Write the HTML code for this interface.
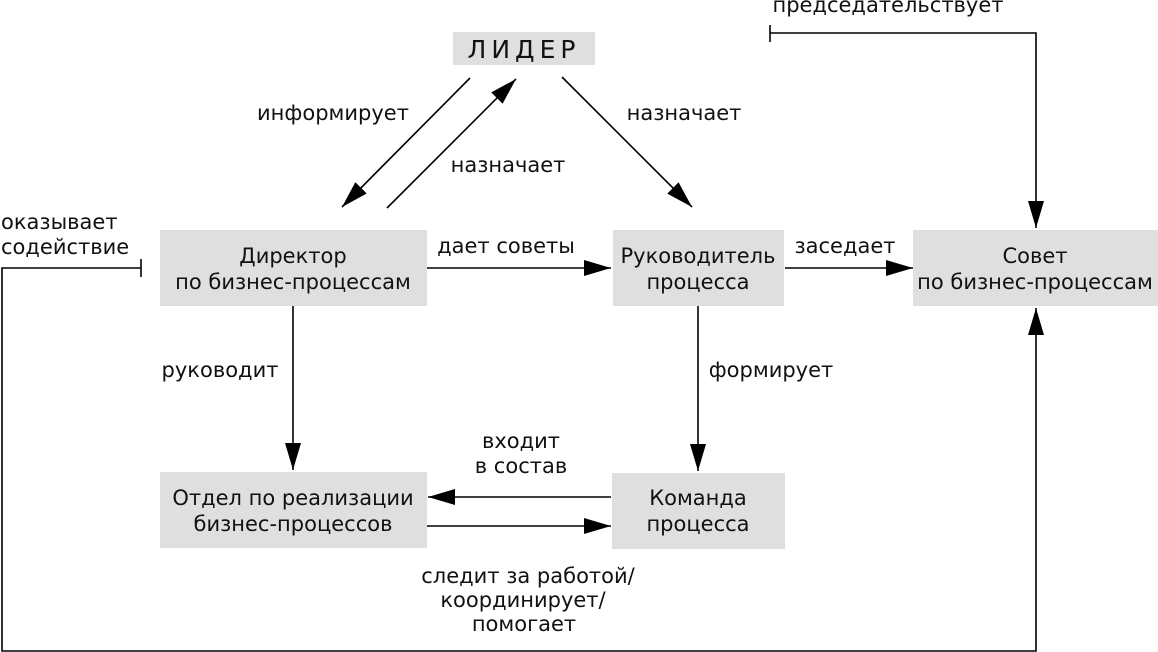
<!DOCTYPE html>
<html><head><meta charset="utf-8"><style>
html,body{margin:0;padding:0;background:#fff;}
svg{display:block;}
text{font-family:"DejaVu Sans","Liberation Sans",sans-serif;font-size:21px;fill:#111;}
</style></head><body>
<svg width="1158" height="652" viewBox="0 0 1158 652" xmlns="http://www.w3.org/2000/svg">
<defs>
<marker id="a" markerWidth="27" markerHeight="16" refX="27" refY="8" orient="auto" markerUnits="userSpaceOnUse">
<path d="M0,0 L27,8 L0,16 Z" fill="#000"/>
</marker>
</defs>
<g fill="#dfdfdf">
<rect x="453" y="32" width="142" height="33"/>
<rect x="160" y="230" width="267" height="76"/>
<rect x="613" y="230" width="171" height="76"/>
<rect x="913" y="230" width="245" height="76"/>
<rect x="160" y="472" width="267" height="76"/>
<rect x="612" y="473" width="173" height="76"/>
</g>
<g stroke="#000" stroke-width="1.6" fill="none">
<line x1="470" y1="78" x2="342" y2="207" marker-end="url(#a)"/>
<line x1="387" y1="208" x2="516" y2="79" marker-end="url(#a)"/>
<line x1="562" y1="77" x2="692" y2="207" marker-end="url(#a)"/>
<line x1="427" y1="268" x2="611" y2="268" marker-end="url(#a)"/>
<line x1="785" y1="268" x2="913" y2="268" marker-end="url(#a)"/>
<line x1="293" y1="306" x2="293" y2="470" marker-end="url(#a)"/>
<line x1="698" y1="306" x2="698" y2="471" marker-end="url(#a)"/>
<line x1="611" y1="497" x2="428" y2="497" marker-end="url(#a)"/>
<line x1="427" y1="526" x2="611" y2="526" marker-end="url(#a)"/>
<polyline points="141,268 2,268 2,651 1036,651 1036,308" marker-end="url(#a)"/>
<line x1="141" y1="259" x2="141" y2="277"/>
<polyline points="770,33 1036,33 1036,228" marker-end="url(#a)"/>
<line x1="770" y1="25" x2="770" y2="42"/>
</g>
<text x="524" y="58" text-anchor="middle" style="font-size:25px;letter-spacing:5px">ЛИДЕР</text>
<text x="293" y="263" text-anchor="middle">Директор</text>
<text x="293" y="289" text-anchor="middle">по бизнес-процессам</text>
<text x="698" y="263" text-anchor="middle">Руководитель</text>
<text x="698" y="289" text-anchor="middle">процесса</text>
<text x="1035" y="263" text-anchor="middle">Совет</text>
<text x="1035" y="289" text-anchor="middle">по бизнес-процессам</text>
<text x="293" y="505" text-anchor="middle">Отдел по реализации</text>
<text x="293" y="531" text-anchor="middle">бизнес-процессов</text>
<text x="698" y="505" text-anchor="middle">Команда</text>
<text x="698" y="531" text-anchor="middle">процесса</text>
<text x="333" y="120" text-anchor="middle">информирует</text>
<text x="508" y="172" text-anchor="middle">назначает</text>
<text x="684" y="120" text-anchor="middle">назначает</text>
<text x="506" y="253" text-anchor="middle">дает советы</text>
<text x="845" y="253" text-anchor="middle">заседает</text>
<text x="220" y="377" text-anchor="middle">руководит</text>
<text x="771" y="377" text-anchor="middle">формирует</text>
<text x="521" y="448" text-anchor="middle">входит</text>
<text x="521" y="473" text-anchor="middle">в состав</text>
<text x="528" y="583" text-anchor="middle">следит за работой/</text>
<text x="523" y="607" text-anchor="middle">координирует/</text>
<text x="524" y="631" text-anchor="middle">помогает</text>
<text x="1" y="229">оказывает</text>
<text x="1" y="254">содействие</text>
<text x="888" y="12" text-anchor="middle">председательствует</text>
</svg>
</body></html>
